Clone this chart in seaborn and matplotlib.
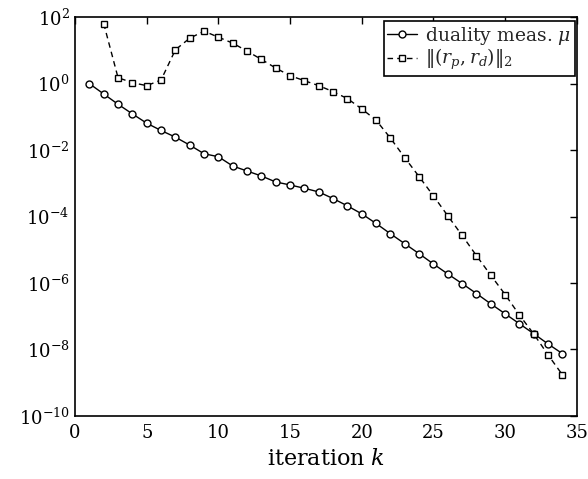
import numpy as np
import pandas as pd
import matplotlib
matplotlib.use("Agg")
import matplotlib.pyplot as plt
import seaborn as sns

# iterations
k_mu = list(range(1, 35))
k_res = list(range(2, 35))

# log10 of duality measure mu
log_mu = [0.00, -0.31, -0.62, -0.91, -1.19, -1.41, -1.61, -1.85, -2.11, -2.20,
          -2.48, -2.63, -2.78, -2.96, -3.05, -3.15, -3.26, -3.46, -3.68, -3.92,
          -4.21, -4.52, -4.82, -5.12, -5.43, -5.73, -6.02, -6.32, -6.63, -6.93,
          -7.23, -7.53, -7.84, -8.13]

# log10 of residual norm ||(r_p, r_d)||_2
log_res = [1.81, 0.18, 0.03, -0.06, 0.11, 1.02, 1.37, 1.58, 1.40, 1.22,
           0.98, 0.73, 0.47, 0.24, 0.09, -0.06, -0.24, -0.45, -0.76, -1.10,
           -1.64, -2.23, -2.80, -3.38, -3.98, -4.57, -5.18, -5.77, -6.35, -6.97,
           -7.54, -8.17, -8.77]

label_mu = r"duality meas. $\mu$"
label_res = r"$\|(r_p,r_d)\|_2$"

df_mu = pd.DataFrame({"k": k_mu, "v": np.power(10.0, log_mu)})
df_res = pd.DataFrame({"k": k_res, "v": np.power(10.0, log_res)})

sns.set_theme(style="white")
plt.rcParams["font.family"] = ["DejaVu Serif"]
plt.rcParams["mathtext.fontset"] = "dejavuserif"

fig = plt.figure(figsize=(5.88, 4.79), dpi=100)
ax = fig.add_axes([0.1276, 0.132, 0.8534, 0.832])

sns.lineplot(data=df_mu, x="k", y="v", ax=ax, color="black", linewidth=1.0,
             marker="o", markersize=5, markerfacecolor="white",
             markeredgecolor="black", markeredgewidth=1.0, label=label_mu)
sns.lineplot(data=df_res, x="k", y="v", ax=ax, color="black", linewidth=1.0,
             linestyle=(0, (4, 3)), marker="s", markersize=3.8,
             markerfacecolor="white", markeredgecolor="black",
             markeredgewidth=1.0, label=label_res)

ax.set_yscale("log")
ax.set_xlim(0, 35)
ax.set_ylim(1e-10, 1e2)
ax.set_xticks([0, 5, 10, 15, 20, 25, 30, 35])
ax.set_yticks([1e-10, 1e-8, 1e-6, 1e-4, 1e-2, 1e0, 1e2])
ax.minorticks_off()
ax.yaxis.set_minor_locator(matplotlib.ticker.NullLocator())
ax.tick_params(direction="in", length=5, width=1, top=True, right=True,
               labelsize=13, colors="black", pad=4)
ax.tick_params(axis="x", pad=6)
for s in ax.spines.values():
    s.set_color("black")
    s.set_linewidth(1.2)
ax.set_xlabel(r"iteration $k$", fontsize=16, color="black")
ax.set_ylabel("")

leg = ax.legend(loc="upper right", bbox_to_anchor=(0.996, 0.99),
                fontsize=13.5, frameon=True, fancybox=False,
                edgecolor="black", framealpha=1, borderaxespad=0.0,
                handlelength=1.6, handletextpad=0.4, borderpad=0.2,
                labelspacing=0.0)
leg.get_frame().set_linewidth(1.2)

fig.savefig("out.png", dpi=100)
